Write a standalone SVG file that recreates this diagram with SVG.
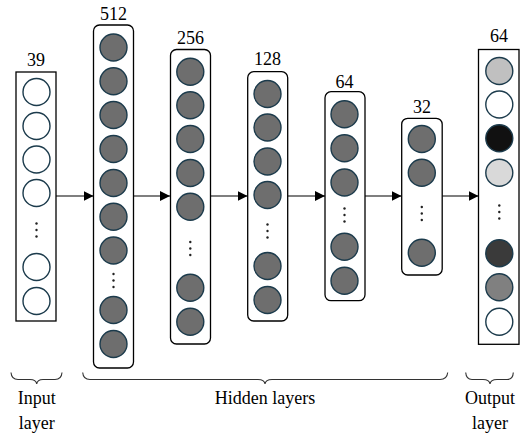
<svg xmlns="http://www.w3.org/2000/svg" width="531" height="434" viewBox="0 0 531 434">
<defs>
<style>
.box{fill:#fff;stroke:#000;stroke-width:1.3}
.n{stroke:#1c3b4c;stroke-width:1.4;fill:#6e6e6e}
.w{fill:#fff}
.dot{fill:#222}
.t{font-family:"Liberation Serif","Times New Roman",serif;font-size:18px;fill:#000;text-anchor:middle}
.c{fill:none;stroke:#000;stroke-width:1.2}
.br{fill:none;stroke:#333;stroke-width:1.1}
</style>
<marker id="ah" viewBox="0 0 10 10" refX="10" refY="5" markerWidth="10" markerHeight="10" markerUnits="userSpaceOnUse" orient="auto">
<path d="M0,0 L10,5 L0,10 Z" fill="#000"/>
</marker>
</defs>
<rect width="531" height="434" fill="#fff"/>

<g id="connectors">
<line class="c" x1="56" y1="196" x2="93.5" y2="196" marker-end="url(#ah)"/>
<line class="c" x1="133.5" y1="196" x2="170" y2="196" marker-end="url(#ah)"/>
<line class="c" x1="210.5" y1="196" x2="247.5" y2="196" marker-end="url(#ah)"/>
<line class="c" x1="287.5" y1="196" x2="325" y2="196" marker-end="url(#ah)"/>
<line class="c" x1="365" y1="196" x2="401.5" y2="196" marker-end="url(#ah)"/>
<line class="c" x1="442" y1="196" x2="478.5" y2="196" marker-end="url(#ah)"/>
</g>

<g id="input">
<rect class="box" x="16" y="72" width="40" height="249"/>
<text class="t" x="36" y="66">39</text>
<circle class="n w" cx="36.5" cy="92" r="13.5"/>
<circle class="n w" cx="36.5" cy="126" r="13.5"/>
<circle class="n w" cx="36.5" cy="159.5" r="13.5"/>
<circle class="n w" cx="36.5" cy="193" r="13.5"/>
<circle class="dot" cx="36.5" cy="223.5" r="1.2"/>
<circle class="dot" cx="36.5" cy="230" r="1.2"/>
<circle class="dot" cx="36.5" cy="236.5" r="1.2"/>
<circle class="n w" cx="36.5" cy="267" r="13.5"/>
<circle class="n w" cx="36.5" cy="301" r="13.5"/>
</g>

<g id="h512">
<rect class="box" x="93.5" y="25" width="40" height="343" rx="6"/>
<text class="t" x="113.5" y="20">512</text>
<circle class="n" cx="113.5" cy="47.5" r="13.5"/>
<circle class="n" cx="113.5" cy="81.3" r="13.5"/>
<circle class="n" cx="113.5" cy="115" r="13.5"/>
<circle class="n" cx="113.5" cy="149" r="13.5"/>
<circle class="n" cx="113.5" cy="183" r="13.5"/>
<circle class="n" cx="113.5" cy="216.7" r="13.5"/>
<circle class="n" cx="113.5" cy="250.5" r="13.5"/>
<circle class="dot" cx="113.5" cy="274" r="1.2"/>
<circle class="dot" cx="113.5" cy="280.5" r="1.2"/>
<circle class="dot" cx="113.5" cy="287" r="1.2"/>
<circle class="n" cx="113.5" cy="310" r="13.5"/>
<circle class="n" cx="113.5" cy="344" r="13.5"/>
</g>

<g id="h256">
<rect class="box" x="170.5" y="49.5" width="40" height="294.5" rx="6"/>
<text class="t" x="190.5" y="44">256</text>
<circle class="n" cx="190.3" cy="71.7" r="13.5"/>
<circle class="n" cx="190.3" cy="105.3" r="13.5"/>
<circle class="n" cx="190.3" cy="139" r="13.5"/>
<circle class="n" cx="190.3" cy="173" r="13.5"/>
<circle class="n" cx="190.3" cy="206.7" r="13.5"/>
<circle class="dot" cx="190.3" cy="242" r="1.2"/>
<circle class="dot" cx="190.3" cy="248.5" r="1.2"/>
<circle class="dot" cx="190.3" cy="255" r="1.2"/>
<circle class="n" cx="190.3" cy="287.7" r="13.5"/>
<circle class="n" cx="190.3" cy="321.7" r="13.5"/>
</g>

<g id="h128">
<rect class="box" x="247.7" y="71.7" width="40" height="249.3" rx="6"/>
<text class="t" x="267.5" y="65">128</text>
<circle class="n" cx="267.5" cy="94" r="13.5"/>
<circle class="n" cx="267.5" cy="127.5" r="13.5"/>
<circle class="n" cx="267.5" cy="161.5" r="13.5"/>
<circle class="n" cx="267.5" cy="195" r="13.5"/>
<circle class="dot" cx="267.5" cy="224.5" r="1.2"/>
<circle class="dot" cx="267.5" cy="231" r="1.2"/>
<circle class="dot" cx="267.5" cy="237.5" r="1.2"/>
<circle class="n" cx="267.5" cy="266" r="13.5"/>
<circle class="n" cx="267.5" cy="300" r="13.5"/>
</g>

<g id="h64">
<rect class="box" x="325" y="91.7" width="40" height="209" rx="6"/>
<text class="t" x="344.5" y="88">64</text>
<circle class="n" cx="344.5" cy="114.3" r="13.5"/>
<circle class="n" cx="344.5" cy="148.3" r="13.5"/>
<circle class="n" cx="344.5" cy="182.5" r="13.5"/>
<circle class="dot" cx="344.5" cy="208.5" r="1.2"/>
<circle class="dot" cx="344.5" cy="215" r="1.2"/>
<circle class="dot" cx="344.5" cy="221.5" r="1.2"/>
<circle class="n" cx="344.5" cy="246.7" r="13.5"/>
<circle class="n" cx="344.5" cy="280.7" r="13.5"/>
</g>

<g id="h32">
<rect class="box" x="401.7" y="118.3" width="40.5" height="156.7" rx="6"/>
<text class="t" x="422" y="113">32</text>
<circle class="n" cx="421.8" cy="139" r="13.5"/>
<circle class="n" cx="421.8" cy="172.7" r="13.5"/>
<circle class="dot" cx="421.8" cy="207" r="1.2"/>
<circle class="dot" cx="421.8" cy="213.5" r="1.2"/>
<circle class="dot" cx="421.8" cy="220" r="1.2"/>
<circle class="n" cx="421.8" cy="252.7" r="13.5"/>
</g>

<g id="output">
<rect class="box" x="478.5" y="49.5" width="40.5" height="294.8"/>
<text class="t" x="499" y="42">64</text>
<circle class="n" cx="499.3" cy="71" r="13.5" style="fill:#c0c0c0"/>
<circle class="n w" cx="499.3" cy="104.5" r="13.5"/>
<circle class="n" cx="499.3" cy="138.3" r="13.5" style="fill:#111"/>
<circle class="n" cx="499.3" cy="172.7" r="13.5" style="fill:#d9d9d9"/>
<circle class="dot" cx="499.3" cy="205.5" r="1.2"/>
<circle class="dot" cx="499.3" cy="212" r="1.2"/>
<circle class="dot" cx="499.3" cy="218.5" r="1.2"/>
<circle class="n" cx="499.3" cy="253.3" r="13.5" style="fill:#3a3a3a"/>
<circle class="n" cx="499.3" cy="287.3" r="13.5" style="fill:#808080"/>
<circle class="n w" cx="499.3" cy="321.7" r="13.5"/>
</g>

<g id="braces">
<path class="br" d="M11,372.5 Q11.5,379.5 18,379.5 L30,379.5 Q36,379.5 36.7,384 Q37.4,379.5 43,379.5 L55,379.5 Q61.5,379.5 62,372.5"/>
<path class="br" d="M82.7,372.5 Q83.2,379.5 90,379.5 L258,379.5 Q264.3,379.5 265,384 Q265.7,379.5 272,379.5 L440,379.5 Q447,379.5 447.7,372.5"/>
<path class="br" d="M465.7,372.5 Q466.2,379.5 472,379.5 L483,379.5 Q489.3,379.5 490,384 Q490.7,379.5 497,379.5 L507,379.5 Q513,379.5 513.3,372.5"/>
</g>

<g id="labels">
<text class="t" x="36.7" y="404">Input</text>
<text class="t" x="36.7" y="429">layer</text>
<text class="t" x="265" y="404">Hidden layers</text>
<text class="t" x="490" y="404">Output</text>
<text class="t" x="490" y="429">layer</text>
</g>
</svg>
